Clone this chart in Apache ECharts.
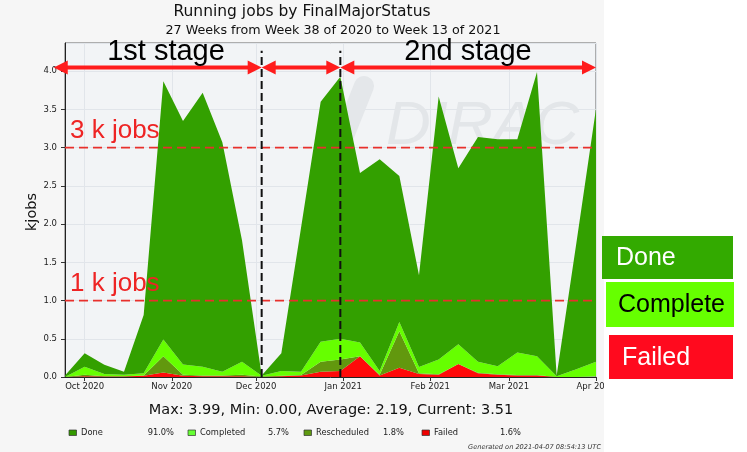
<!DOCTYPE html>
<html><head><meta charset="utf-8">
<script src="https://cdn.jsdelivr.net/npm/echarts@6/dist/echarts.min.js"></script>
<style>html,body{margin:0;padding:0;background:#fff}#c{width:747px;height:452px}</style>
</head><body><div id="c"></div>
<script>
// ---- data ----
const weeks = ['2020-09-24','2020-10-01','2020-10-08','2020-10-15','2020-10-22','2020-10-29','2020-11-05',
  '2020-11-12','2020-11-19','2020-11-26','2020-12-03','2020-12-10','2020-12-17','2020-12-24','2020-12-31',
  '2021-01-07','2021-01-14','2021-01-21','2021-01-28','2021-02-04','2021-02-11','2021-02-18','2021-02-25',
  '2021-03-04','2021-03-11','2021-03-18','2021-03-25','2021-04-01'];
const failed      = [0, 0.01, 0.005, 0.005, 0.015, 0.06, 0.015, 0.01, 0.01, 0.01, 0, 0.01, 0.02, 0.07, 0.08,
  0.27, 0.02, 0.12, 0.04, 0.03, 0.17, 0.05, 0.03, 0.02, 0.02, 0, 0, 0.005];
const rescheduled = [0, 0.02, 0.005, 0.005, 0.005, 0.21, 0.015, 0.01, 0.01, 0.02, 0.005, 0.005, 0.005, 0.13, 0.15,
  0, 0.01, 0.48, 0.01, 0.005, 0, 0.005, 0.005, 0.005, 0.005, 0, 0, 0.005];
const completed   = [0, 0.105, 0.03, 0.02, 0.03, 0.22, 0.135, 0.115, 0.05, 0.17, 0.01, 0.065, 0.045, 0.26, 0.27,
  0.18, 0.05, 0.12, 0.08, 0.195, 0.26, 0.145, 0.105, 0.295, 0.245, 0.01, 0.10, 0.19];
const done        = [0.02, 0.175, 0.12, 0.04, 0.76, 3.38, 3.185, 3.585, 3.0, 1.59, 0.005, 0.23, 1.88, 3.14, 3.43,
  2.22, 2.77, 1.91, 1.20, 3.44, 2.30, 2.94, 2.97, 2.79, 3.72, 0.01, 1.65, 3.31];
const seriesNames = ['Failed', 'Rescheduled', 'Completed', 'Done'];
const legendNames = ['Done', 'Completed', 'Rescheduled', 'Failed'];
const legendPcts  = ['91.0%', '5.7%', '1.8%', '1.6%'];
const statsText = 'Max: 3.99, Min: 0.00, Average: 2.19, Current: 3.51';
const titleText = 'Running jobs by FinalMajorStatus';
const subTitleText = '27 Weeks from Week 38 of 2020 to Week 13 of 2021';
const generatedText = 'Generated on 2021-04-07 08:54:13 UTC';
const yAxisName = 'kjobs';
const thresholds = [3, 1];
const thresholdLabels = ['3 k jobs', '1 k jobs'];
const stageBounds = ['2020-09-20', '2020-12-03', '2020-12-31', '2021-04-01'];
const stageLabels = ['1st stage', '2nd stage'];
const bigLegend = ['Done', 'Complete', 'Failed'];
const monthNames = ['Jan','Feb','Mar','Apr','May','Jun','Jul','Aug','Sep','Oct','Nov','Dec'];

// ---- styling ----
const colors = { Failed: '#ff0a0a', Rescheduled: '#62980e', Completed: '#66ff00', Done: '#33a000' };
const t = s => { const [y, m, d] = s.split('-').map(Number); return new Date(y, m - 1, d).getTime(); };
const seriesData = { Failed: failed, Rescheduled: rescheduled, Completed: completed, Done: done };
const MPL = '"DejaVu Sans", sans-serif';
const ARIAL = '"Liberation Sans", Arial, sans-serif';

const chart = echarts.init(document.getElementById('c'), null, { renderer: 'canvas' });
const option = {
  animation: false,
  backgroundColor: '#f6f6f6',
  grid: { left: 65, right: 151, top: 43, bottom: 75, show: true, backgroundColor: '#f2f4f6',
          borderColor: '#666', borderWidth: 1 },
  xAxis: {
    type: 'time', min: t(weeks[0]), max: t(weeks[weeks.length - 1]),
    splitNumber: 7, minInterval: 28 * 86400000, maxInterval: 31 * 86400000,
    axisLine: { lineStyle: { color: '#222', width: 1 } },
    axisTick: { show: true, length: 4, lineStyle: { color: '#333' } },
    axisLabel: { fontFamily: MPL, fontSize: 8.5, color: '#222', margin: 5,
      showMinLabel: false,
      formatter: v => { const d = new Date(v); if (d.getDate() !== 1 || d.getHours() !== 0) return '';
        return monthNames[d.getMonth()] + ' ' + d.getFullYear(); } },
    splitLine: { show: true, lineStyle: { color: '#e1e5ea', width: 1 } }
  },
  yAxis: {
    type: 'value', min: 0, max: 4.37, interval: 0.5,
    axisLine: { show: true, lineStyle: { color: '#222', width: 1 } },
    axisTick: { show: true, length: 4, lineStyle: { color: '#333' } },
    axisLabel: { fontFamily: MPL, fontSize: 8.5, color: '#222', margin: 8, showMaxLabel: false,
      formatter: v => v.toFixed(1) },
    splitLine: { show: true, lineStyle: { color: '#e1e5ea', width: 1 } }
  },
  series: seriesNames.map(n => ({
    name: n, type: 'line', stack: 'jobs', symbol: 'none', z: 2,
    lineStyle: { width: 0 }, areaStyle: { color: colors[n], opacity: 1 },
    itemStyle: { color: colors[n] },
    data: weeks.map((w, i) => [t(w), seriesData[n][i]])
  }))
};
chart.setOption(option);

// ---- annotations positioned through the axes ----
const px = (d, v) => chart.convertToPixel({ xAxisIndex: 0, yAxisIndex: 0 }, [t(d), v]);
const g = [];
// y axis name (rotated)
g.push({ type: 'text', z: 102, x: 32, y: 212, rotation: Math.PI / 2,
  style: { text: yAxisName, x: 0, y: 0, textAlign: 'center', textVerticalAlign: 'middle',
    font: '14.5px ' + MPL, fill: '#111' } });
// watermark
g.push({ type: 'line', z: 1, shape: { x1: 332, y1: 166, x2: 364, y2: 86 },
  style: { stroke: '#e4e7ea', lineWidth: 20, lineCap: 'round' } });
g.push({ type: 'text', z: 1, style: { text: 'DIRAC', x: 386, y: 96, font: 'italic 62px ' + ARIAL, fill: '#e3e6e9' } });

// horizontal red dashed threshold lines and their labels
const xL = px(weeks[0], 0)[0], xR = px(weeks[weeks.length - 1], 0)[0];
thresholds.forEach((v, i) => {
  const y = px(weeks[0], v)[1];
  g.push({ type: 'line', z: 100, shape: { x1: xL, y1: y, x2: xR, y2: y },
    style: { stroke: '#e8302c', lineWidth: 1.8, lineDash: [9, 5] } });
  g.push({ type: 'text', z: 100, style: { text: thresholdLabels[i], x: xL + 5, y: y - 17,
    textVerticalAlign: 'middle', font: '26px ' + ARIAL, fill: '#ee2424' } });
});
// vertical black dashed stage boundaries
[stageBounds[1], stageBounds[2]].forEach(d => {
  const p0 = px(d, 0), p1 = px(d, 4.27);
  g.push({ type: 'line', z: 100, shape: { x1: p0[0], y1: p0[1], x2: p1[0], y2: p1[1] },
    style: { stroke: '#111', lineWidth: 2, lineDash: [8, 4] } });
});
// red double arrows
const arrowY = px(weeks[0], 4.05)[1];
const HL = 14, HW = 7, AC = '#ff1c1c';
for (let k = 0; k < stageBounds.length - 1; k++) {
  const a = px(stageBounds[k], 0)[0], b = px(stageBounds[k + 1], 0)[0];
  g.push({ type: 'line', z: 101, shape: { x1: a + HL - 2, y1: arrowY, x2: b - HL + 2, y2: arrowY },
    style: { stroke: AC, lineWidth: 4 } });
  g.push({ type: 'polygon', z: 101, shape: { points: [[a, arrowY], [a + HL, arrowY - HW], [a + HL, arrowY + HW]] },
    style: { fill: AC } });
  g.push({ type: 'polygon', z: 101, shape: { points: [[b, arrowY], [b - HL, arrowY - HW], [b - HL, arrowY + HW]] },
    style: { fill: AC } });
}
// stage labels
g.push({ type: 'text', z: 102, style: { text: stageLabels[0], x: 166, y: 52, textAlign: 'center',
  textVerticalAlign: 'middle', font: '29px ' + ARIAL, fill: '#000' } });
g.push({ type: 'text', z: 102, style: { text: stageLabels[1], x: 468, y: 52, textAlign: 'center',
  textVerticalAlign: 'middle', font: '29px ' + ARIAL, fill: '#000' } });

// titles
g.push({ type: 'text', z: 102, style: { text: titleText, x: 302, y: 12, textAlign: 'center',
  textVerticalAlign: 'middle', font: '15.5px ' + MPL, fill: '#111' } });
g.push({ type: 'text', z: 102, style: { text: subTitleText, x: 333, y: 31, textAlign: 'center',
  textVerticalAlign: 'middle', font: '12.7px ' + MPL, fill: '#111' } });
// stats line
g.push({ type: 'text', z: 102, style: { text: statsText, x: 331, y: 410, textAlign: 'center',
  textVerticalAlign: 'middle', font: '14.5px ' + MPL, fill: '#111' } });
// small legend row
const legX = [69, 188, 304, 422], pctX = [174, 289, 404, 521];
const legCol = { Done: '#339900', Completed: '#66ff33', Rescheduled: '#5f9a10', Failed: '#ee0000' };
legendNames.forEach((n, i) => {
  g.push({ type: 'rect', z: 102, shape: { x: legX[i], y: 430, width: 7.5, height: 5.5 },
    style: { fill: legCol[n], stroke: '#333', lineWidth: 0.7 } });
  g.push({ type: 'text', z: 102, style: { text: n, x: legX[i] + 12, y: 433, textVerticalAlign: 'middle',
    font: '8.3px ' + MPL, fill: '#222' } });
  g.push({ type: 'text', z: 102, style: { text: legendPcts[i], x: pctX[i], y: 433, textAlign: 'right',
    textVerticalAlign: 'middle', font: '8.3px ' + MPL, fill: '#222' } });
});
g.push({ type: 'text', z: 102, style: { text: generatedText, x: 601, y: 447, textAlign: 'right',
  textVerticalAlign: 'middle', font: 'italic 6.6px ' + MPL, fill: '#333' } });

// white margin on the right (the original image is cropped there)
g.push({ type: 'rect', z: 150, shape: { x: 604, y: 0, width: 143, height: 452 }, style: { fill: '#ffffff' } });
// big coloured legend boxes
const boxes = [
  { x: 602, y: 236, w: 131, h: 43, fill: '#33aa00', tc: '#ffffff', tx: 616 },
  { x: 606, y: 282, w: 128, h: 45, fill: '#66ff00', tc: '#000000', tx: 618 },
  { x: 609, y: 335, w: 124, h: 44, fill: '#ff0a1e', tc: '#ffffff', tx: 622 }
];
boxes.forEach((b, i) => {
  g.push({ type: 'rect', z: 160, shape: { x: b.x, y: b.y, width: b.w, height: b.h }, style: { fill: b.fill } });
  g.push({ type: 'text', z: 161, style: { text: bigLegend[i], x: b.tx, y: b.y + b.h / 2 + 1,
    textVerticalAlign: 'middle', font: '25px ' + ARIAL, fill: b.tc } });
});

chart.setOption({ graphic: { elements: g } });
</script></body></html>
